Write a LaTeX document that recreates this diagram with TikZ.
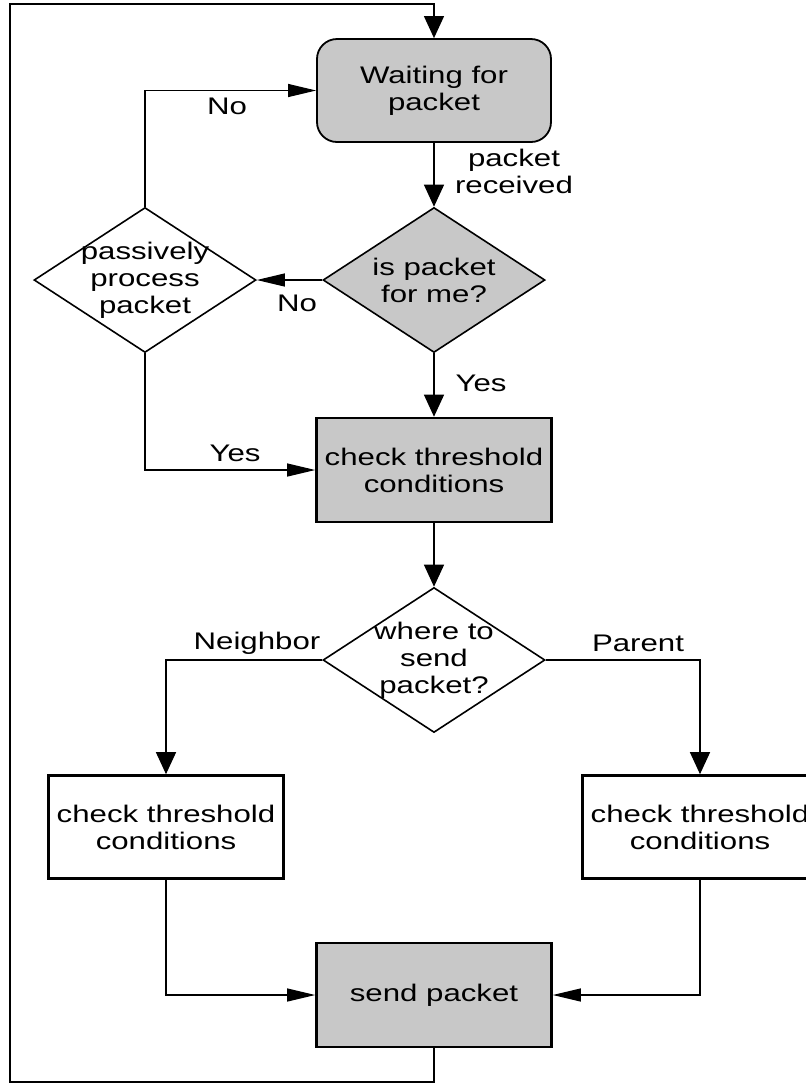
\documentclass[tikz,border=0pt]{standalone}
\usepackage{fontspec}
\setmainfont[FakeStretch=1.3]{Liberation Sans}
\usetikzlibrary{shapes.geometric,arrows.meta}
\definecolor{boxgray}{RGB}{200,200,200}
\begin{document}
\begin{tikzpicture}[x=0.5pt,y=-0.5pt,
  every node/.style={font=\fontsize{12}{13.5}\selectfont, align=center},
  flow/.style={line width=0.6pt},
  vtip/.style={-{Triangle[length=11pt,width=10pt]}},
  htip/.style={-{Triangle[length=14pt,width=6.5pt]}},
  waitbox/.style={draw, fill=boxgray, rounded corners=10pt, line width=0.9pt,
    minimum width=117pt, minimum height=51.5pt, inner sep=0pt},
  decision/.style={diamond, draw, line width=0.8pt, minimum width=111pt,
    minimum height=72.5pt, inner sep=0pt},
  procbox/.style={draw, line width=1.3pt, minimum width=117.5pt,
    minimum height=51.5pt, inner sep=0pt},
  tag/.style={inner sep=0pt}
]
\useasboundingbox (0,0) rectangle (806,1084);

% states and decisions
\node[waitbox] (wait) at (434,90.5) {Waiting for\\packet};
\node[decision, fill=boxgray] (ispkt) at (434,280) {};
\node (ispkttxt) at (ispkt) {is packet\\for me?};
\node[decision] (passive) at (145,280) {};
\node (passivetxt) at (passive) {passively\\process\\packet};
\node[procbox, fill=boxgray, minimum height=52pt] (chk) at (434,470) {check threshold\\conditions};
\node[decision] (where) at (434,660) {};
\node (wheretxt) at (where) {where to\\send\\packet?};
\node[procbox] (nbr) at (166,827) {check threshold\\conditions};
\node[procbox] (par) at (700,827) {check threshold\\conditions};
\node[procbox, fill=boxgray, minimum height=52pt] (send) at (434,995) {send packet};

% corners of the return loop
\coordinate (loopbl) at (10,1082);
\coordinate (looptl) at (10,4);

% connectors
\draw[flow,vtip] (send.south) |- (loopbl) -- (looptl) -| (wait.north);
\draw[flow,htip] (passive.north) |- (wait.west);
\draw[flow,vtip] (wait.south) -- (ispkt.north);
\draw[flow,htip] (ispkt.west) -- (passive.east);
\draw[flow,vtip] (ispkt.south) -- (chk.north);
\draw[flow,htip] (passive.south) |- (chk.west);
\draw[flow,vtip] (chk.south) -- (where.north);
\draw[flow,vtip] (where.west) -| (nbr.north);
\draw[flow,vtip] (where.east) -| (par.north);
\draw[flow,htip] (nbr.south) |- (send.west);
\draw[flow,htip] (par.south) |- (send.east);

% connector labels
\node[tag] (lblnotop) at (227,106) {No};
\node[tag] (lblrecv) at (514,171) {packet\\received};
\node[tag] (lblnoleft) at (297,303) {No};
\node[tag] (lblyesdown) at (481,383) {Yes};
\node[tag] (lblyesleft) at (235,453) {Yes};
\node[tag] (lblnbr) at (257,643) {Neighbor};
\node[tag] (lblpar) at (638,643) {Parent};
\end{tikzpicture}
\end{document}
